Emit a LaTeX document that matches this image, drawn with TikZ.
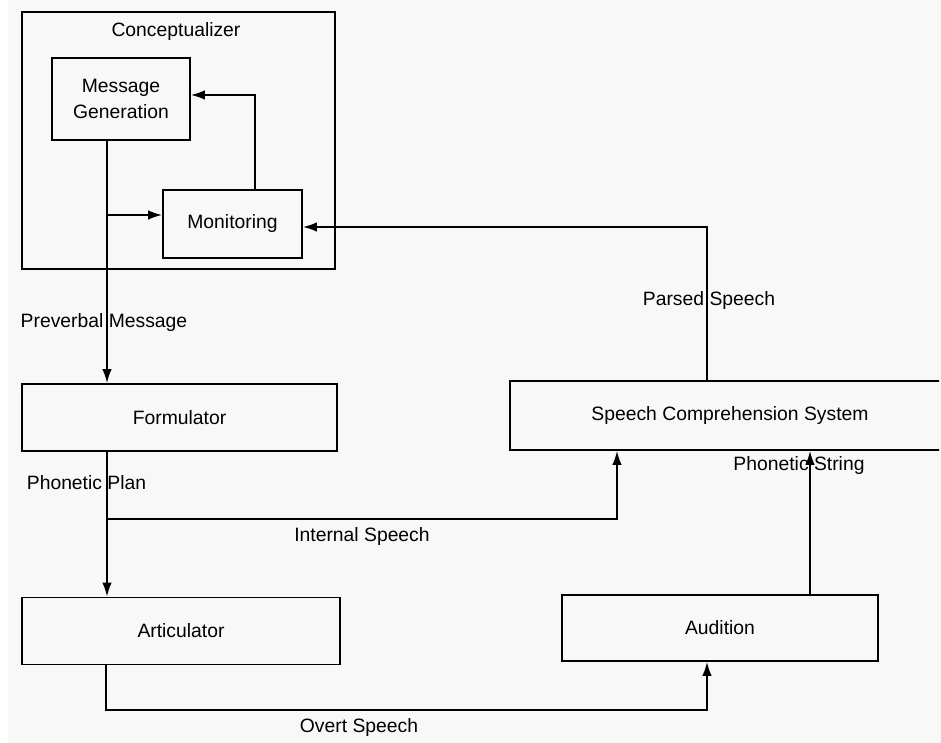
\documentclass[tikz,border=0pt]{standalone}
\usepackage{fontspec}
\setmainfont{Liberation Sans}
\usepackage{xcolor}
\usepackage{tikz}
\usetikzlibrary{arrows.meta, positioning, calc}

\definecolor{paper}{RGB}{248,248,248}

\begin{document}
\begin{tikzpicture}[
    x=0.02cm, y=-0.02cm,
    block/.style={draw, line width=1pt, rectangle, inner sep=2pt, font=\fontsize{11}{15}\selectfont, align=center},
    flow/.style={line width=1pt, -{Latex[length=2.8mm, width=1.9mm]}},
    tag/.style={font=\fontsize{11}{13}\selectfont, inner sep=1pt},
  ]
    \useasboundingbox (0,0) rectangle (941,743);
    \fill[paper] (8,0) rectangle (941,743);

    % ── Conceptualizer ──
    \node[block, minimum width=6.26cm, minimum height=5.14cm] (concept) at (178.5,140.5) {};
    \node[tag] (concept-lbl) at (176,32) {Conceptualizer};
    \node[block, minimum width=2.76cm, minimum height=1.64cm] (msg) at (121,99) {Message\\Generation};
    \node[block, minimum width=2.78cm, minimum height=1.36cm] (mon) at (232.5,224) {Monitoring};

    % ── Production chain (left) ──
    \node[block, minimum width=6.3cm, minimum height=1.34cm] (form) at (179.5,417.5) {Formulator};
    \node[block, minimum width=6.36cm, minimum height=1.34cm] (art) at (181,631) {Articulator};

    % ── Comprehension chain (right), cut off by the page edge ──
    \begin{scope}
      \clip (0,0) rectangle (939,743);
      \node[block, minimum width=8.8cm, minimum height=1.38cm] (scs) at (730,415.5) {Speech Comprehension System};
    \end{scope}
    \node[block, minimum width=6.32cm, minimum height=1.32cm] (aud) at (720,628) {Audition};

    % Bend points
    \coordinate (mg-split) at (107,215);
    \coordinate (fbk) at (255,95);
    \coordinate (parse) at (707,227);
    \coordinate (int-split) at (107,519);
    \coordinate (int-up) at (617,519);
    \coordinate (ovt-down) at (106,710);
    \coordinate (ovt-up) at (707,710);
    \coordinate (pstr) at (810,0);

    % Inside the conceptualizer
    \draw[flow] (fbk |- mon.north) -- (fbk) -- (fbk -| msg.east);
    \draw[flow] (mg-split) -- (mg-split -| mon.west);

    % Message generation -> formulator -> articulator
    \draw[flow] (mg-split |- msg.south) -- (mg-split |- form.north);
    \draw[flow] (int-split |- form.south) -- (int-split |- art.north);
    \draw[flow] (int-split) -- (int-up) -- (int-up |- scs.south);

    % Overt speech and hearing
    \draw[flow] (ovt-down |- art.south) -- (ovt-down) -- (ovt-up) -- (ovt-up |- aud.south);
    \draw[flow] (pstr |- aud.north) -- (pstr |- scs.south);
    \draw[flow] (parse |- scs.north) -- (parse) -- (parse -| mon.east);

    % Connector labels
    \node[tag] (preverbal) at (104,323) {Preverbal Message};
    \node[tag] (phon-plan) at (86.5,483) {Phonetic Plan};
    \node[tag] (internal) at (362,537) {Internal Speech};
    \node[tag] (parsed) at (709,301) {Parsed Speech};
    \node[tag] (phon-str) at (799,466) {Phonetic String};
    \node[tag] (overt) at (359,728) {Overt Speech};
  \end{tikzpicture}
\end{document}
